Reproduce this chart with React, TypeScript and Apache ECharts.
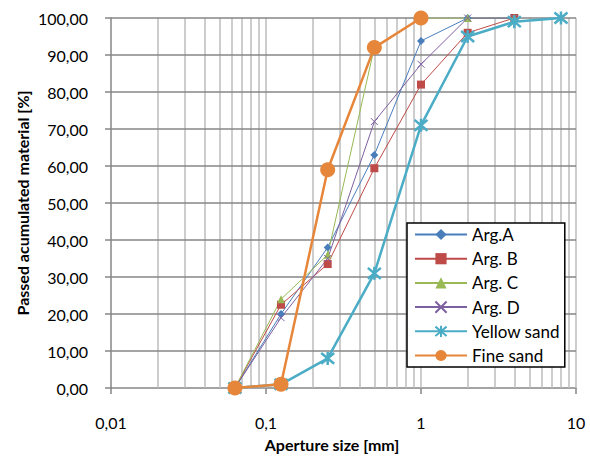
import React, { useEffect, useRef } from "react";
import * as echarts from "echarts";

// Sieve apertures (mm) and cumulative passing percentages
const sizesArg = [0.063, 0.125, 0.25, 0.5, 1, 2, 4];
const argA = [0, 20, 38, 63, 93.8, 100, 100];
const argB = [0, 22.5, 33.5, 59.4, 82, 96, 100];
const argC = [0, 24, 36, 92, 100, 100, 100];
const argD = [0, 19, 35, 72, 87.5, 100, 100];

const sizesYellow = [0.063, 0.125, 0.25, 0.5, 1, 2, 4, 8];
const yellowSand = [0, 1, 8, 31, 71, 95, 99, 100];

const sizesFine = [0.063, 0.125, 0.25, 0.5, 1];
const fineSand = [0, 1, 59, 92, 100];

// Grid positions
const majorX = [0.01, 0.1, 1, 10];
const minorMult = [2, 3, 4, 5, 6, 7, 8, 9];
const yTicks = [10, 20, 30, 40, 50, 60, 70, 80, 90, 100];

const FONT = "Lato, 'Noto Sans', sans-serif";

const pair = (xs: number[], ys: number[]) => xs.map((x, i) => [x, ys[i]]);

export default function App() {
  const ref = useRef<HTMLDivElement>(null);

  useEffect(() => {
    if (!ref.current) return;
    const chart = echarts.init(ref.current, undefined, { renderer: "svg" });

    const vLines: any[] = [];
    majorX.slice(0, 3).forEach((m) => {
      minorMult.forEach((k) => vLines.push({ xAxis: +(m * k).toPrecision(3) }));
    });
    majorX.slice(1).forEach((m) => vLines.push({ xAxis: m }));
    const hLines = yTicks.map((v) => ({
      yAxis: v,
      lineStyle: { color: "#868686", width: 1.5, type: "solid" },
    }));

    const thin = (name: string, data: number[][], color: string, symbol: string, size: number, extra: any = {}) => ({
      name,
      type: "line",
      data,
      z: 3,
      symbol,
      symbolSize: size,
      lineStyle: { color, width: 1 },
      itemStyle: { color, ...extra },
    });

    const option: any = {
      animation: false,
      grid: { left: 111, right: 14, top: 18, bottom: 70 },
      xAxis: {
        type: "log",
        logBase: 10,
        min: 0.01,
        max: 10,
        axisLine: { show: true, lineStyle: { color: "#868686", width: 1.5 } },
        axisTick: { show: true, inside: false, length: 6, lineStyle: { color: "#868686", width: 1.5 } },
        splitLine: { show: false },
        axisLabel: {
          margin: 26,
          color: "#000",
          fontFamily: FONT,
          fontSize: 16,
          formatter: (v: number) => String(v).replace(".", ","),
        },
      },
      yAxis: {
        type: "value",
        min: 0,
        max: 100,
        interval: 10,
        axisLine: { show: true, lineStyle: { color: "#868686", width: 1.5 } },
        axisTick: { show: true, length: 6, lineStyle: { color: "#868686", width: 1.5 } },
        splitLine: { show: false },
        axisLabel: {
          margin: 23,
          color: "#000",
          fontFamily: FONT,
          fontSize: 16,
          formatter: (v: number) => v.toFixed(2).replace(".", ","),
        },
      },
      legend: {
        orient: "vertical",
        left: 407,
        top: 223,
        z: 20,
        data: ["Arg.A", "Arg. B", "Arg. C", "Arg. D", "Yellow sand", "Fine sand"],
        backgroundColor: "#fff",
        borderColor: "#000",
        borderWidth: 1.5,
        borderRadius: 0,
        padding: [3, 5, 3, 7],
        itemWidth: 52,
        itemHeight: 14,
        itemGap: 7.2,
        textStyle: { fontFamily: FONT, fontSize: 17, lineHeight: 14, color: "#000", padding: [0, 0, 0, 0] },
      },
      graphic: [
        {
          type: "text",
          x: 332,
          y: 444,
          style: {
            text: "Aperture size [mm]",
            font: `bold 16px ${FONT}`,
            fill: "#000",
            align: "center",
            verticalAlign: "middle",
          },
        },
        {
          type: "text",
          x: 22,
          y: 203,
          rotation: Math.PI / 2,
          style: {
            text: "Passed acumulated material [%]",
            font: `bold 16px ${FONT}`,
            fill: "#000",
            align: "center",
            verticalAlign: "middle",
          },
        },
      ],
      series: [
        {
          name: "grid",
          type: "line",
          data: [],
          z: 1,
          silent: true,
          markLine: {
            silent: true,
            z: 1,
            symbol: "none",
            label: { show: false },
            emphasis: { disabled: true },
            lineStyle: { color: "#BDBDBD", width: 1.5, type: "solid" },
            data: [...vLines, ...hLines],
          },
        },
        thin("Arg.A", pair(sizesArg, argA), "#4A7EBB", "diamond", 8),
        thin("Arg. B", pair(sizesArg, argB), "#BE4B48", "rect", 8),
        thin("Arg. C", pair(sizesArg, argC), "#98B954", "triangle", 8),
        thin("Arg. D", pair(sizesArg, argD), "#7D60A0", "path://M0 0L10 10M10 0L0 10", 7, {
          borderColor: "#7D60A0",
          borderWidth: 1,
        }),
        {
          name: "Yellow sand",
          type: "line",
          data: pair(sizesYellow, yellowSand),
          z: 4,
          symbol: "path://M0 0L10 10M10 0L0 10M5 -1L5 11",
          symbolSize: 13,
          lineStyle: { color: "#4BACC6", width: 2.5 },
          itemStyle: { color: "#4BACC6", borderColor: "#4BACC6", borderWidth: 2.5 },
        },
        {
          name: "Fine sand",
          type: "line",
          data: pair(sizesFine, fineSand),
          z: 5,
          symbol: "circle",
          symbolSize: 15,
          lineStyle: { color: "#E6863B", width: 2.5 },
          itemStyle: { color: "#E6863B" },
        },
      ],
    };

    chart.setOption(option);
    return () => chart.dispose();
  }, []);

  return (
    <div
      ref={ref}
      style={{ position: "absolute", left: 0, top: 0, width: 590, height: 458, background: "#fff" }}
    />
  );
}
